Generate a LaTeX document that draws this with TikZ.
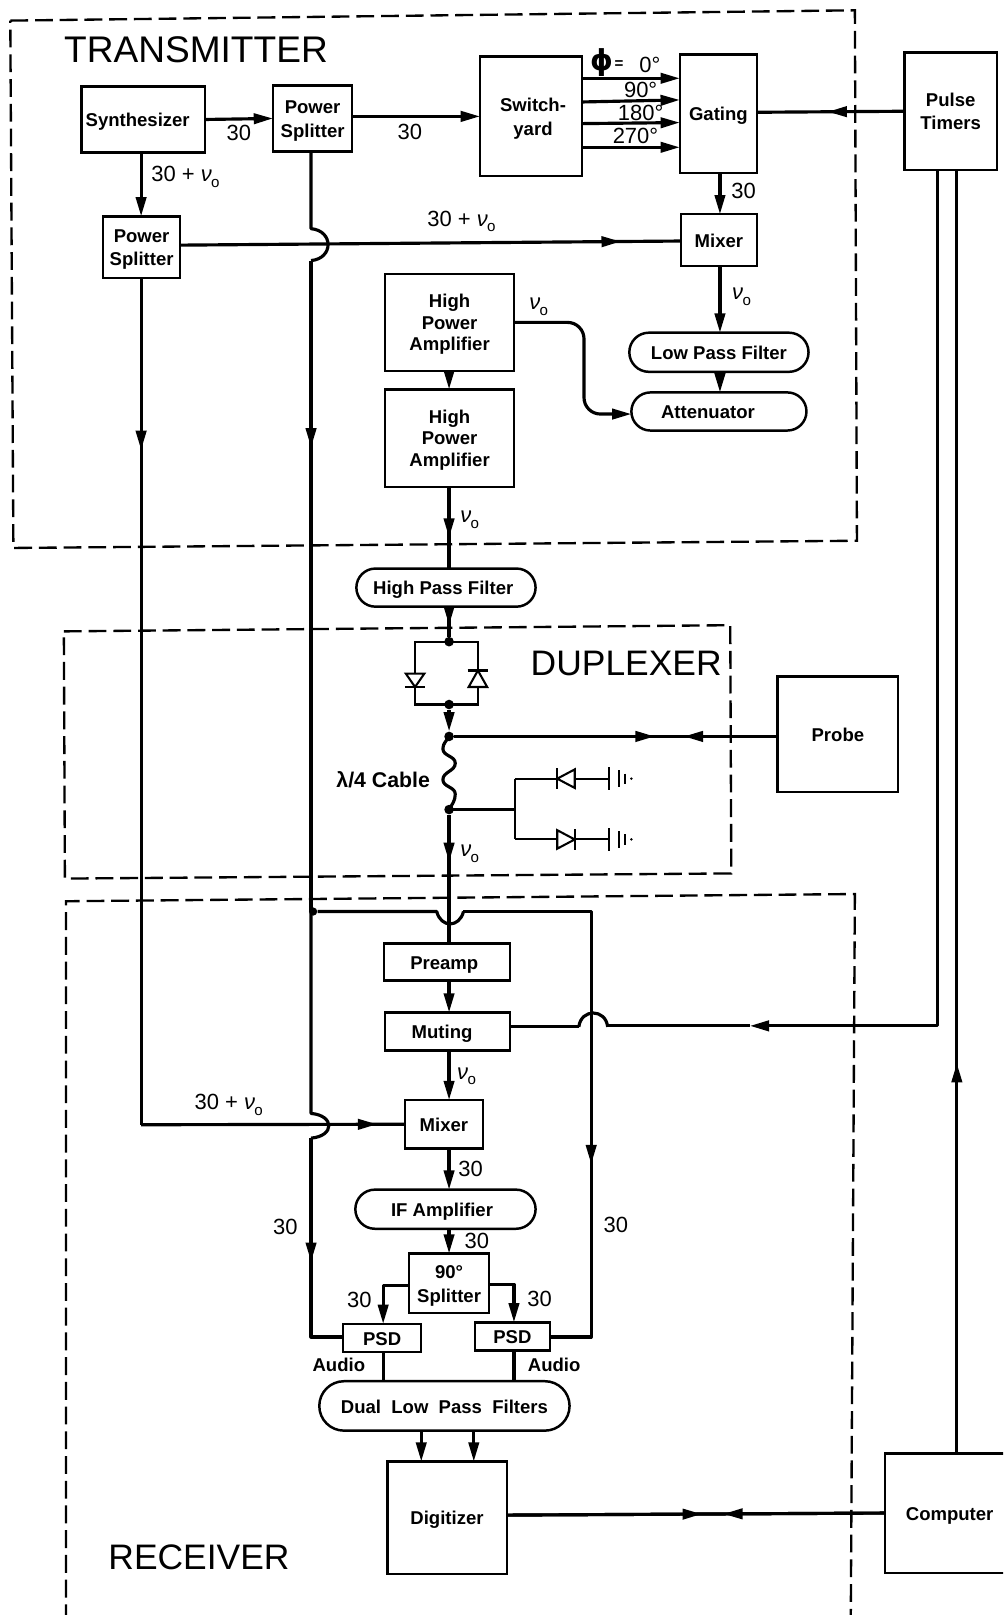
\documentclass[tikz,border=0pt]{standalone}
\usepackage{fontspec}
\setmainfont{Liberation Sans}
\newfontfamily\dvfont{DejaVu Sans}
\usetikzlibrary{arrows.meta,decorations.markings,shapes.misc,calc}
\newcommand{\nuo}{{\itshape ν}\kern-0.5pt\raisebox{-0.5ex}{\fontsize{11}{11}\selectfont o}}
\newcommand{\bxnode}[7]{%
  \pgfmathsetmacro\bxw{(#5-#3)*0.75}%
  \pgfmathsetmacro\bxh{(#6-#4)*0.75}%
  \node[#1,minimum width=\bxw pt,minimum height=\bxh pt] (#2) at ({(#3+#5)/2},{(#4+#6)/2})
    {\raisebox{0pt}[\dimexpr\height+3.5pt\relax][\depth]{\begin{tabular}{@{}c@{}}#7\end{tabular}}};}
\tikzset{
  x=0.75pt,y=-0.75pt,
  >={Triangle[length=14pt,width=7.5pt]},
  wire/.style={line width=2.3pt,line join=round},
  thinwire/.style={line width=1.5pt,line join=miter},
  region/.style={line width=1.7pt,dash pattern=on 13pt off 5pt},
  blockbox/.style={draw,line width=1.8pt,inner sep=0pt,outer sep=0pt,
     font=\bfseries\fontsize{13.5}{17}\selectfont},
  hpabox/.style={blockbox,font=\bfseries\fontsize{13.5}{15.7}\selectfont},
  pillbox/.style={blockbox,rounded rectangle,rounded rectangle arc length=180},
  lab/.style={inner sep=0pt,font=\fontsize{16}{18}\selectfont},
  smalllab/.style={inner sep=0pt,font=\bfseries\fontsize{13.5}{16}\selectfont},
  title/.style={inner sep=0pt,font=\fontsize{27}{30}\selectfont},
  junction/.style={circle,fill,inner sep=0pt,minimum size=7pt},
  tipat/.style={postaction={decorate,decoration={markings,mark=at position #1 with {\arrow{>}}}}},
}
\begin{document}
\begin{tikzpicture}
\clip (0,0) rectangle (974,1568);
\fill[white] (0,0) rectangle (974,1568);
% regions
\draw[region] (10,20) -- (830,10) -- (832,525) -- (13,532) -- cycle;
\draw[region] (62,613) -- (709,607) -- (710,848) -- (63,853) -- cycle;
\draw[region] (64,1575) -- (64,875) -- (830,868) -- (826,1575);
\node[title,anchor=west] (ttx) at (62,48) {TRANSMITTER};
\node[title,anchor=west,font=\fontsize{25.8}{30}\selectfont] (tdu) at (515,644) {DUPLEXER};
\node[title,anchor=west,font=\fontsize{25.8}{30}\selectfont] (trx) at (105,1512) {RECEIVER};
% blocks
\bxnode{blockbox}{syn}{79}{84}{199}{148}{\hspace*{-8pt}Synthesizer}
\bxnode{blockbox}{psa}{265}{83}{342}{147}{Power\\Splitter}
\bxnode{blockbox}{swy}{466}{55}{565}{171}{\hspace*{3pt}Switch-\\\hspace*{3pt}yard}
\bxnode{blockbox}{gat}{660}{53}{735}{168}{Gating}
\bxnode{blockbox}{pul}{878}{51}{968}{165}{Pulse\\Timers}
\bxnode{blockbox}{psb}{100}{210}{175}{270}{Power\\Splitter}
\bxnode{blockbox}{mxa}{661}{208}{735}{258}{Mixer}
\bxnode{hpabox}{hpa}{374}{266}{499}{360}{High\\Power\\Amplifier}
\bxnode{hpabox}{hpb}{374}{378}{499}{473}{High\\Power\\Amplifier}
\bxnode{pillbox}{lpf}{611}{323}{785}{361}{Low Pass Filter}
\bxnode{pillbox}{att}{613}{381}{783}{418}{\hspace*{-16pt}Attenuator}
\bxnode{pillbox}{hpf}{346}{552}{520}{589}{\hspace*{-4pt}High Pass Filter}
\bxnode{blockbox}{prb}{755}{657}{872}{769}{Probe}
\bxnode{blockbox}{pre}{373}{916}{495}{952}{\hspace*{-4pt}Preamp}
\bxnode{blockbox}{mut}{374}{983}{495}{1020}{\hspace*{-8pt}Muting}
\bxnode{blockbox}{mxb}{393}{1068}{469}{1115}{Mixer}
\bxnode{pillbox}{ifa}{345}{1155}{520}{1193}{\hspace*{-5pt}IF\ Amplifier}
\bxnode{blockbox}{spl}{397}{1217}{475}{1275}{90°\\Splitter}
\bxnode{blockbox}{pda}{333}{1286}{409}{1312}{PSD}
\bxnode{blockbox}{pdb}{461}{1285}{534}{1310}{PSD}
\bxnode{pillbox}{dlp}{310}{1341}{553}{1389}{Dual\ \ Low\ \ Pass\ \ Filters}
\bxnode{blockbox}{dig}{376}{1419}{492}{1528}{Digitizer}
\bxnode{blockbox}{cmp}{859}{1411}{985}{1527}{Computer}
% helper coordinates and junctions
\coordinate (xc) at (436,0);
\coordinate (xa) at (302,0);
\coordinate (xb) at (137,0);
\coordinate (xd) at (699,0);
\coordinate (xe) at (929,0);
\coordinate (xf) at (910,0);
\coordinate (xl) at (372,0);
\coordinate (xr) at (499,0);
\coordinate (xg) at (409,0);
\coordinate (xh) at (460,0);
\node[junction] (ja) at (436,623) {};
\node[junction] (jb) at (436,684) {};
\node[junction] (jc) at (436,715) {};
\node[junction] (jd) at (436,786) {};
\node[junction,minimum size=6pt] (je) at (304,885) {};
% transmitter wiring
\draw[wire,->] (syn.east) -- (psa.west);
\draw[wire,->] (psa.east |- 0,113) -- (swy.west |- 0,113);
\draw[wire,->] (swy.east |- 0,76) -- (gat.west |- 0,76);
\draw[wire,->] (swy.east |- 0,99) -- (gat.west |- 0,97);
\draw[wire,->] (swy.east |- 0,120) -- (gat.west |- 0,119);
\draw[wire,->] (swy.east |- 0,143) -- (gat.west |- 0,143);
\draw[wire,tipat=0.52] (pul.west |- 0,108) -- (gat.east |- 0,109);
\draw[wire,->] (gat.south -| xd) -- (mxa.north -| xd);
\draw[wire,->] (syn.south -| xb) -- (psb.north -| xb);
\draw[wire,tipat=0.88] (psb.east |- 0,238) -- (mxa.west |- 0,234);
\coordinate (hp1a) at (302,222);
\coordinate (hp1b) at (302,253);
\draw[wire] (psa.south -| xa) -- (hp1a) .. controls (324,224) and (324,251) .. (hp1b);
\draw[wire,tipat=0.287] (hp1b) -- (je.center -| xa);
\coordinate (bb) at (137,1092);
\draw[wire,tipat=0.203] (psb.south -| xb) -- (bb);
\draw[wire,tipat=0.895] (bb) -- (mxb.west);
\draw[wire,->] (hpa.south -| xc) -- (hpb.north -| xc);
\draw[wire,tipat=0.62] (hpb.south -| xc) -- (hpf.north -| xc);
\draw[wire,->,rounded corners=12pt] (hpa.east |- 0,313) -- (567,313) -- (567,402) -- (att.west |- 0,402);
\draw[wire,->] (mxa.south -| xd) -- (lpf.north -| xd);
\draw[wire,->] (lpf.south -| xd) -- (att.north -| xd);
\draw[wire,->] (pul.south -| xf) ++(0,0) -- (xf |- 0,996) -- (728,996);
\draw[wire] (728,996) -- (590,996);
\coordinate (hpma) at (590,997);
\coordinate (hpmb) at (562,997);
\draw[wire] (hpma) .. controls (588,979) and (564,979) .. (hpmb);
\draw[wire] (hpmb) -- (mut.east |- hpmb);
\draw[wire,tipat=0.304] (cmp.north -| xe) -- (pul.south -| xe);
% duplexer wiring
\draw[wire,tipat=0.62] (hpf.south -| xc) -- (ja);
\draw[thinwire] (ja.center) -| (403,653);
\draw[thinwire] (403,667) |- (jb.center);
\draw[thinwire] (ja.center) -| (464,651);
\draw[thinwire] (464,667) |- (jb.center);
\draw[thinwire] (394,654) -- (412,654) -- (403,667) -- cycle;
\draw[thinwire] (393,667) -- (413,667);
\draw[thinwire] (455,667) -- (473,667) -- (464,651) -- cycle;
\draw[thinwire] (454,651) -- (474,651);
\draw[wire,->] (jb) -- (jc);
\draw[wire,tipat=0.62] (jc) -- (prb.west |- jc);
\draw[wire,tipat=0.29] (prb.west |- jc) -- (jc);
\draw[wire] (jc.center) to[out=-120,in=90] (430,727) to[out=-90,in=90] (442,741) to[out=-90,in=90] (430,757) to[out=-90,in=90] (442,771) to[out=-90,in=60] (jd.center);
\draw[wire] (jd.center) -- (500,786);
\draw[thinwire] (500,756) -- (500,815);
\draw[thinwire] (500,756) -- (541,756);
\draw[thinwire] (500,815) -- (541,815);
\draw[thinwire] (541,756) -- (558,747) -- (558,765) -- cycle;
\draw[thinwire] (541,746) -- (541,766);
\draw[thinwire] (558,756) -- (591,756);
\draw[thinwire] (541,806) -- (558,815) -- (541,824) -- cycle;
\draw[thinwire] (558,805) -- (558,825);
\draw[thinwire] (558,815) -- (591,815);
\draw[thinwire] (591,745) -- (591,767);
\draw[thinwire] (601,748) -- (601,764);
\draw[thinwire] (607,751) -- (607,761);
\fill (613,756) circle (1pt);
\draw[thinwire] (591,804) -- (591,826);
\draw[thinwire] (601,807) -- (601,823);
\draw[thinwire] (607,810) -- (607,820);
\fill (613,815) circle (1pt);
\draw[wire,tipat=0.367] (jd) -- (pre.north -| xc);
% receiver wiring
\coordinate (hp3a) at (424,885);
\coordinate (hp3b) at (450,885);
\draw[wire] (je) -- (hp3a) .. controls (428,901) and (446,901) .. (hp3b);
\draw[wire,tipat=0.64] (hp3b) -- (574,885) -- (574,1298) -- (pdb.east |- 0,1298);
\coordinate (hp2a) at (302,1081);
\coordinate (hp2b) at (302,1105);
\draw[wire] (je.center -| xa) -- (hp2a) .. controls (325,1083) and (325,1103) .. (hp2b);
\draw[wire,tipat=0.536] (hp2b) -- (302,1298) -- (pda.west |- 0,1298);
\draw[wire,->] (pre.south -| xc) -- (mut.north -| xc);
\draw[wire,->] (mut.south -| xc) -- (mxb.north -| xc);
\draw[wire,->] (mxb.south -| xc) -- (ifa.north -| xc);
\draw[wire,->] (ifa.south -| xc) -- (spl.north -| xc);
\draw[wire,->] (spl.west |- 0,1248) -| (pda.north -| xl);
\draw[wire,->] (spl.east |- 0,1247) -| (pdb.north -| xr);
\draw[wire] (pda.south -| xl) -- (dlp.north -| xl);
\draw[wire] (pdb.south -| xr) -- (dlp.north -| xr);
\draw[wire,->] (dlp.south -| xg) -- (dig.north -| xg);
\draw[wire,->] (dlp.south -| xh) -- (dig.north -| xh);
\draw[wire,tipat=0.516] (dig.east |- 0,1471) -- (cmp.west |- 0,1469);
\draw[wire,tipat=0.427] (cmp.west |- 0,1469) -- (dig.east |- 0,1471);
% labels
\node[lab] (l1) at (232,129) {30};
\node[lab] (l2) at (398,128) {30};
\node[lab] (l3) at (180,172) {30 + \nuo};
\node[lab] (l4) at (448,215) {30 + \nuo};
\node[lab] (l5) at (722,185) {30};
\node[lab] (l6) at (720,288) {\nuo};
\node[lab] (l7) at (523,298) {\nuo};
\node[lab] (l8) at (456,505) {\nuo};
\node[inner sep=0pt,font=\dvfont\bfseries\fontsize{21}{22}\selectfont] (l9) at (584,61) {ϕ};
\node[inner sep=0pt,font=\bfseries\fontsize{11}{11}\selectfont] (l9b) at (601,63) {=};
\node[lab] (l10) at (631,63) {0°};
\node[lab] (l11) at (622,87) {90°};
\node[lab] (l12) at (622,110) {180°};
\node[lab] (l13) at (617,132) {270°};
\node[smalllab,font=\bfseries\fontsize{15.5}{16}\selectfont] (l14) at (372,757) {λ/4 Cable};
\node[lab] (l15) at (456,829) {\nuo};
\node[lab] (l16) at (222,1073) {30 + \nuo};
\node[lab] (l17) at (453,1045) {\nuo};
\node[lab] (l18) at (457,1135) {30};
\node[lab] (l19) at (463,1205) {30};
\node[lab] (l20) at (277,1191) {30};
\node[lab] (l21) at (598,1189) {30};
\node[lab] (l22) at (349,1262) {30};
\node[lab] (l23) at (524,1261) {30};
\node[smalllab] (l24) at (329,1325) {Audio};
\node[smalllab] (l25) at (538,1325) {Audio};
\end{tikzpicture}
\end{document}
